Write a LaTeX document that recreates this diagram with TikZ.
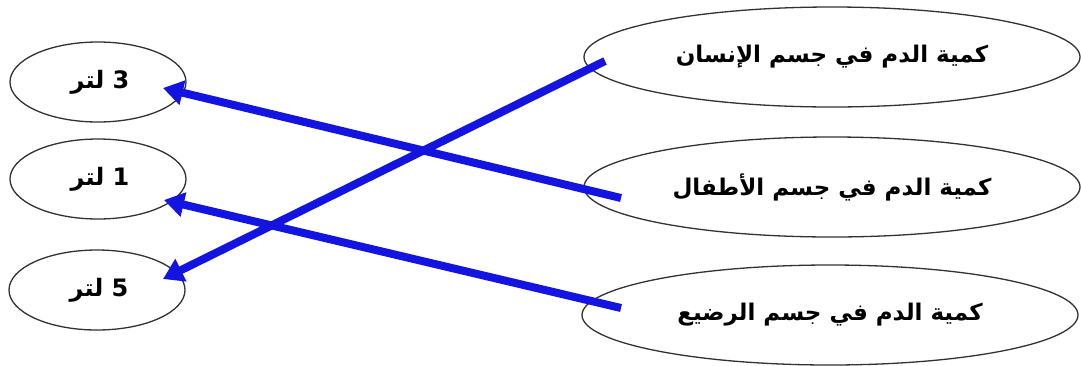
\documentclass[tikz,border=0pt]{standalone}
\usepackage{fontspec}
\usetikzlibrary{shapes.geometric,arrows.meta}
\TeXXeTstate=1
\newfontfamily\arabicfont[Script=Arabic]{DejaVu Sans}
\definecolor{arrowblue}{RGB}{20,20,225}
\definecolor{edgegray}{RGB}{50,50,50}
\tikzset{
  oval/.style={draw=edgegray, line width=1.3pt, ellipse, inner sep=0pt, fill=white},
  small/.style={oval, minimum width=176pt, minimum height=80pt,
    font=\arabicfont\bfseries\fontsize{24}{28}\selectfont},
  big/.style={oval, minimum width=496pt, minimum height=100pt,
    font=\arabicfont\bfseries\fontsize{23}{27}\selectfont},
  link/.style={draw=arrowblue, line width=8pt, -{Triangle[length=20pt,width=24pt]}}
}
\begin{document}
\begin{tikzpicture}[x=1pt,y=-1pt]
\useasboundingbox (0,0) rectangle (1081,365);
\fill[white] (0,0) rectangle (1081,365);
\node[small] (l3) at (98,82) {\hspace{4pt}\beginR 3 لتر\endR};
\node[small] (l1) at (98,179) {\hspace{4pt}\beginR 1 لتر\endR};
\node[small] (l5) at (97,290) {\hspace{4pt}\beginR 5 لتر\endR};
\node[big] (rA) at (832,57) {\beginR كمية الدم في جسم الإنسان\endR};
\node[big] (rB) at (832,187) {\beginR كمية الدم في جسم الأطفال\endR};
\node[big] (rC) at (830,315) {\beginR كمية الدم في جسم الرضيع\endR};
\coordinate (sA) at (605,61);
\coordinate (sB) at (621,198);
\coordinate (sC) at (621,308);
\coordinate (t3) at (163,88);
\coordinate (t1) at (164,200);
\coordinate (t5) at (163,279);
\draw[link] (sB) -- (t3);
\draw[link] (sC) -- (t1);
\draw[link] (sA) -- (t5);
\end{tikzpicture}
\end{document}
